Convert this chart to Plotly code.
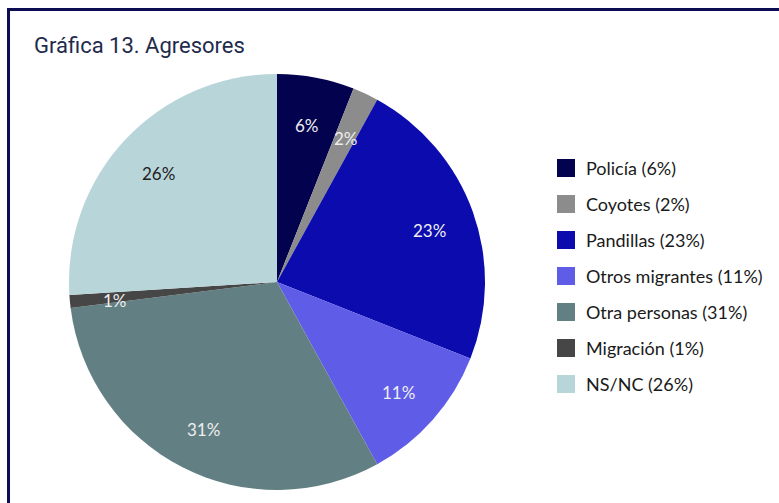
import math
import plotly.graph_objects as go

labels = ["Policía", "Coyotes", "Pandillas", "Otros migrantes", "Otra personas", "Migración", "NS/NC"]
values = [6, 2, 23, 11, 31, 1, 26]
colors = ["#03024f", "#8c8c8c", "#0b0bae", "#5f5ce8", "#628083", "#464646", "#b8d5da"]
text_colors = ["#eeeeee", "#eeeeee", "#eeeeee", "#eeeeee", "#eeeeee", "#eeeeee", "#222222"]
title_text = "Gráfica 13. Agresores"

W, H = 779, 503
CX, CY, R = 277, 282, 208

fig = go.Figure()
fig.add_trace(go.Pie(
    labels=labels, values=values, sort=False, direction="clockwise", rotation=0,
    marker=dict(colors=colors, line=dict(width=0)),
    textinfo="none",
    domain=dict(x=[(CX - R) / W, (CX + R) / W], y=[1 - (CY + R) / H, 1 - (CY - R) / H]),
    showlegend=False, hoverinfo="label+percent",
))

shapes = [
    dict(type="line", xref="paper", yref="paper", x0=8 / W, x1=1.0, y0=1 - 9.5 / H, y1=1 - 9.5 / H,
         line=dict(color="#0d0d55", width=3)),
    dict(type="line", xref="paper", yref="paper", x0=8.5 / W, x1=8.5 / W, y0=0, y1=1 - 8 / H,
         line=dict(color="#0d0d55", width=3)),
]
annotations = [dict(text=title_text, xref="paper", yref="paper", x=32 / W, y=1 - 45 / H,
                    xanchor="left", yanchor="middle", showarrow=False,
                    font=dict(family="Roboto", size=22, color="#1f2b4d", weight=400))]

# slice percentage labels placed at 78% of the radius, at each slice's mid-angle
total = sum(values)
cum = 0
for val, tc in zip(values, text_colors):
    mid = (cum + val / 2) / total * 2 * math.pi
    cum += val
    x = CX + 0.78 * R * math.sin(mid)
    y = CY - 0.78 * R * math.cos(mid) + 3
    annotations.append(dict(text=f"{round(val / total * 100)}%", xref="paper", yref="paper",
                            x=x / W, y=1 - y / H, xanchor="center", yanchor="middle",
                            showarrow=False, font=dict(family="Lato", size=17, color=tc)))

y0, gap = 168, 36
for i, (lab, val, col) in enumerate(zip(labels, values, colors)):
    yc = y0 + i * gap
    shapes.append(dict(type="rect", xref="paper", yref="paper",
                       x0=557 / W, x1=575 / W, y0=1 - (yc + 9) / H, y1=1 - (yc - 9) / H,
                       fillcolor=col, line=dict(width=0)))
    annotations.append(dict(text=f"{lab} ({val}%)", xref="paper", yref="paper",
                            x=584 / W, y=1 - yc / H, xanchor="left", yanchor="middle",
                            showarrow=False, font=dict(family="Lato", size=18, color="#1a1a1a")))

fig.update_layout(width=W, height=H, margin=dict(l=0, r=0, t=0, b=0),
                  paper_bgcolor="white", plot_bgcolor="white",
                  shapes=shapes, annotations=annotations)
fig.write_html("out.html", config={"displayModeBar": False},
               post_script="document.body.style.margin='0';")
